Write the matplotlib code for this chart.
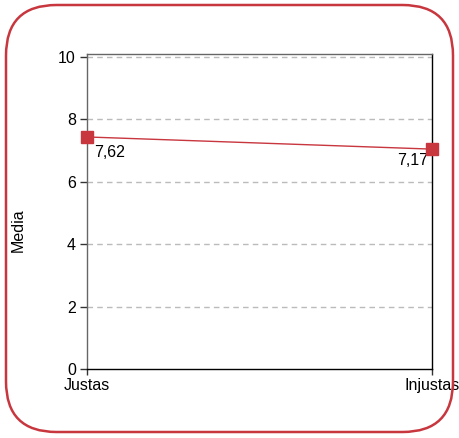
import matplotlib.pyplot as plt
from matplotlib.patches import FancyBboxPatch

plt.rcParams['font.family'] = ['Liberation Sans', 'DejaVu Sans']

# data
categorias = ['Justas', 'Injustas']
medias = [7.44, 7.05]
etiquetas = ['7,62', '7,17']
yticks = [0, 2, 4, 6, 8, 10]

rojo = '#c8363e'
fs = 11.5

fig = plt.figure(figsize=(4.59, 4.38), dpi=100)
ax = fig.add_axes([87 / 459, 1 - 369 / 438, (432 - 87) / 459, (369 - 54) / 438])

x = list(range(len(categorias)))
ax.plot(x, medias, color=rojo, lw=1, marker='s', ms=8, clip_on=False, zorder=5)

# etiquetas de valor
ax.annotate(etiquetas[0], (x[0], medias[0]), xytext=(5, -6), textcoords='offset points',
            ha='left', va='top', fontsize=fs)
ax.annotate(etiquetas[1], (x[1], medias[1]), xytext=(-3, -3), textcoords='offset points',
            ha='right', va='top', fontsize=fs)

ax.set_xlim(0, 1)
ax.set_ylim(0, 10.1)
ax.set_xticks(x)
ax.set_xticklabels(categorias, fontsize=fs)
ax.set_yticks(yticks)
ax.set_yticklabels([str(v) for v in yticks], fontsize=fs)
ax.tick_params(axis='y', length=5, width=1, color='#333333', pad=3)
ax.tick_params(axis='x', length=4, width=1, color='#333333', pad=2.5)

for v in yticks[1:]:
    ax.axhline(v, color='#bbbbbb', lw=1, ls=(0, (4, 3)), zorder=0)

ax.spines['left'].set_color('#666666')
ax.spines['top'].set_color('#666666')
ax.spines['right'].set_color('black')
ax.spines['bottom'].set_color('black')
for s in ax.spines.values():
    s.set_linewidth(1)

fig.text(18 / 459, 1 - 230 / 438, 'Media', rotation=90, ha='center', va='center', fontsize=fs)

# borde redondeado
borde = FancyBboxPatch((6 / 459, 6 / 438), 447 / 459, 427 / 438,
                       boxstyle='round,pad=0,rounding_size=0.11',
                       transform=fig.transFigure, fill=False, edgecolor=rojo, lw=1.8,
                       mutation_aspect=459 / 438)
fig.patches.append(borde)

fig.savefig('out.png', dpi=100)
